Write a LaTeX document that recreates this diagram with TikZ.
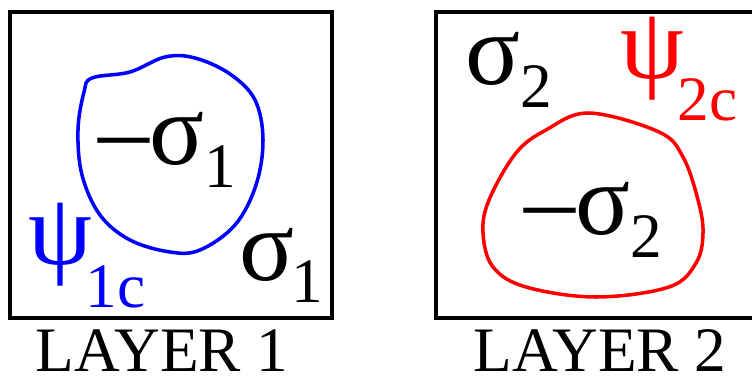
\documentclass[tikz,border=0pt]{standalone}
\usepackage{fontspec}
\setmainfont{Liberation Serif}
\newcommand{\greeklbl}[4]{{\fontsize{29}{29}\selectfont #1}\kern#4\raisebox{-#3}{\fontsize{18}{18}\selectfont #2}}
\begin{document}
\begin{tikzpicture}[x=0.01cm, y=-0.01cm, line width=1pt,
    every node/.append style={inner sep=0pt, anchor=base west},
    caption/.style={font=\fontsize{18}{18}\selectfont}]
  \useasboundingbox (0,0) rectangle (752,379);
  % layer 1
  \draw (10,12) rectangle (332,318);
  \draw[blue] plot[smooth cycle, tension=0.6] coordinates {(92,78) (130,72) (165,57) (195,58) (230,74) (255,100) (263,140) (256,185) (235,225) (200,250) (170,252) (130,240) (100,215) (82,175) (78,130) (84,92)};
  \node (inner1) at (97,165) {\greeklbl{–σ}{1}{6.5pt}{0pt}};
  \node (outer1) at (238,280) {\greeklbl{σ}{1}{6.5pt}{-1pt}};
  \node[blue] (psi1) at (27,264) {\greeklbl{ψ}{1c}{12.5pt}{-2pt}};
  \node[caption] (cap1) at (34,371) {LAYER 1};
  % layer 2
  \draw (436,12) rectangle (758,318);
  \draw[red] plot[smooth cycle, tension=0.6] coordinates {(589,113) (659,132) (683,157) (698,200) (703,233) (696,263) (669,287) (596,297) (526,287) (493,267) (483,233) (489,200) (516,153) (546,130)};
  \node (outer2) at (464,85) {\greeklbl{σ}{2}{6.5pt}{0pt}};
  \node[red] (psi2) at (619,79) {\greeklbl{ψ}{2c}{11.7pt}{-2pt}};
  \node (inner2) at (523,235) {\greeklbl{–σ}{2}{6.5pt}{0pt}};
  \node[caption] (cap2) at (472,371) {LAYER 2};
\end{tikzpicture}
\end{document}
